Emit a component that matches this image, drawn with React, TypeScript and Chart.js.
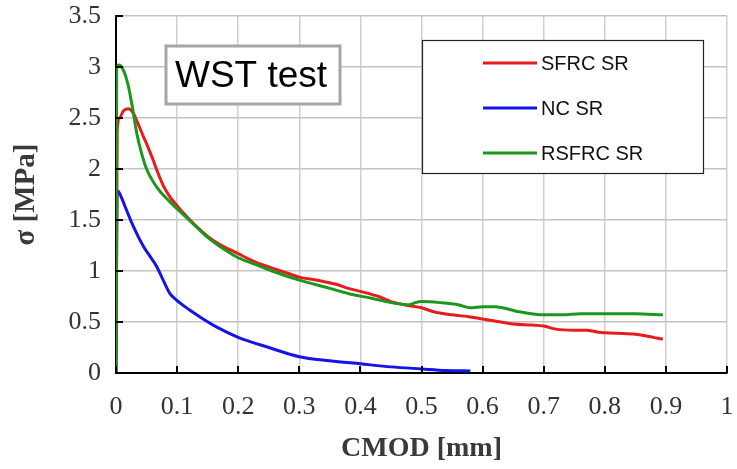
import React, { useEffect, useRef } from "react";
import { Chart, registerables } from "chart.js";

Chart.register(...registerables);

const sfrcX = [0, 0.002, 0.006, 0.012, 0.02, 0.028, 0.035, 0.044, 0.052, 0.06, 0.068, 0.078, 0.088, 0.1, 0.11, 0.126, 0.15, 0.17, 0.2, 0.22, 0.25, 0.28, 0.3, 0.33, 0.36, 0.38, 0.4, 0.43, 0.45, 0.48, 0.5, 0.52, 0.55, 0.58, 0.6, 0.62, 0.65, 0.68, 0.7, 0.72, 0.75, 0.77, 0.79, 0.82, 0.85, 0.87, 0.895];
const sfrcY = [0, 2.38, 2.5, 2.57, 2.59, 2.55, 2.46, 2.33, 2.22, 2.1, 1.97, 1.83, 1.73, 1.64, 1.57, 1.47, 1.34, 1.26, 1.17, 1.11, 1.04, 0.98, 0.94, 0.91, 0.87, 0.83, 0.8, 0.75, 0.7, 0.66, 0.64, 0.6, 0.57, 0.55, 0.53, 0.51, 0.48, 0.47, 0.46, 0.43, 0.42, 0.42, 0.4, 0.39, 0.38, 0.36, 0.33];

const ncX = [0, 0.002, 0.006, 0.015, 0.026, 0.045, 0.055, 0.067, 0.078, 0.088, 0.1, 0.12, 0.14, 0.165, 0.2, 0.25, 0.3, 0.35, 0.4, 0.45, 0.5, 0.54, 0.58];
const ncY = [0, 1.79, 1.76, 1.63, 1.47, 1.24, 1.15, 1.04, 0.9, 0.78, 0.71, 0.62, 0.54, 0.45, 0.35, 0.25, 0.16, 0.12, 0.09, 0.06, 0.04, 0.025, 0.02];

const rsfrcX = [0, 0.001, 0.005, 0.012, 0.02, 0.027, 0.034, 0.042, 0.05, 0.067, 0.088, 0.116, 0.132, 0.15, 0.18, 0.2, 0.23, 0.26, 0.3, 0.35, 0.38, 0.42, 0.45, 0.48, 0.49, 0.5, 0.53, 0.56, 0.58, 0.6, 0.62, 0.66, 0.7, 0.73, 0.76, 0.8, 0.85, 0.895];
const rsfrcY = [0, 2.98, 3.02, 2.97, 2.82, 2.6, 2.35, 2.15, 2.0, 1.82, 1.68, 1.52, 1.43, 1.33, 1.2, 1.13, 1.06, 0.99, 0.91, 0.83, 0.78, 0.73, 0.69, 0.67, 0.69, 0.7, 0.69, 0.67, 0.64, 0.65, 0.65, 0.6, 0.57, 0.57, 0.58, 0.58, 0.58, 0.57];

const seriesNames = ["SFRC SR", "NC SR", "RSFRC SR"];
const seriesColors = ["#e81c1c", "#1414e8", "#1b981b"];

const xTicks = [0, 0.1, 0.2, 0.3, 0.4, 0.5, 0.6, 0.7, 0.8, 0.9, 1];
const yTicks = [0, 0.5, 1, 1.5, 2, 2.5, 3, 3.5];

const toPoints = (xs: number[], ys: number[]) => xs.map((x, i) => ({ x, y: ys[i] }));
const fmt = (v: number) => String(Number(Number(v).toFixed(1)));

const decorPlugin = {
  id: "decor",
  afterDraw(chart: any) {
    const ctx = chart.ctx;
    const xs = chart.scales.x;
    const ys = chart.scales.y;
    const area = chart.chartArea;
    ctx.save();
    ctx.strokeStyle = "#000";
    ctx.lineWidth = 2;
    xTicks.forEach((t) => {
      const px = Math.round(xs.getPixelForValue(t));
      ctx.beginPath();
      ctx.moveTo(px, area.bottom);
      ctx.lineTo(px, area.bottom - 7);
      ctx.stroke();
    });
    yTicks.forEach((t) => {
      const py = Math.round(ys.getPixelForValue(t));
      ctx.beginPath();
      ctx.moveTo(area.left, py);
      ctx.lineTo(area.left + 7, py);
      ctx.stroke();
    });
    // WST test box
    ctx.fillStyle = "#fff";
    ctx.fillRect(166, 46, 174, 58);
    ctx.strokeStyle = "#a6a6a6";
    ctx.lineWidth = 3;
    ctx.strokeRect(166, 46, 174, 58);
    ctx.fillStyle = "#000";
    ctx.font = "37px 'Liberation Sans', Arial, sans-serif";
    ctx.textBaseline = "middle";
    ctx.textAlign = "left";
    ctx.fillText("WST test", 175, 77);
    // legend box
    ctx.fillStyle = "#fff";
    ctx.fillRect(422, 40, 281, 133);
    ctx.strokeStyle = "#222";
    ctx.lineWidth = 1.2;
    ctx.strokeRect(422.5, 40.5, 281, 133);
    const rows = [63, 108, 153];
    ctx.font = "20px 'Liberation Sans', Arial, sans-serif";
    rows.forEach((ry, i) => {
      ctx.strokeStyle = seriesColors[i];
      ctx.lineWidth = 3;
      ctx.beginPath();
      ctx.moveTo(483, ry);
      ctx.lineTo(537, ry);
      ctx.stroke();
      ctx.fillStyle = "#111";
      ctx.fillText(seriesNames[i], 541, ry + 1);
    });
    ctx.restore();
  },
};

export default function App() {
  const ref = useRef<HTMLCanvasElement | null>(null);
  useEffect(() => {
    document.body.style.margin = "0";
    const canvas = ref.current;
    if (!canvas) return;
    const datasets = [
      { label: seriesNames[0], data: toPoints(sfrcX, sfrcY), borderColor: seriesColors[0], order: 1 },
      { label: seriesNames[1], data: toPoints(ncX, ncY), borderColor: seriesColors[1], order: 2 },
      { label: seriesNames[2], data: toPoints(rsfrcX, rsfrcY), borderColor: seriesColors[2], order: 0 },
    ].map((d) => ({
      ...d,
      borderWidth: 3,
      pointRadius: 0,
      showLine: true,
      fill: false,
      cubicInterpolationMode: "monotone",
      backgroundColor: d.borderColor,
    }));
    const chart = new Chart(canvas, {
      type: "scatter",
      data: { datasets },
      options: {
        animation: false,
        responsive: false,
        devicePixelRatio: 1,
        layout: { padding: { top: 16, right: 10, left: 0, bottom: 0 } },
        plugins: { legend: { display: false }, tooltip: { enabled: false } },
        scales: {
          x: {
            type: "linear",
            min: 0,
            max: 1,
            afterFit: (s: any) => { s.height = 96; s.paddingLeft = 0; s.paddingRight = 0; },
            afterBuildTicks: (s: any) => { s.ticks = xTicks.map((v) => ({ value: v })); },
            ticks: {
              callback: (v: any) => fmt(v),
              font: { family: "'Liberation Serif', serif", size: 26 },
              color: "#333",
              padding: 19,
              maxRotation: 0,
              autoSkip: false,
            },
            grid: { color: "#cfcfcf", lineWidth: 1.5, drawTicks: false },
            border: { display: true, color: "#000", width: 2 },
            title: {
              display: true,
              text: "CMOD [mm]",
              font: { family: "'Liberation Serif', serif", size: 28, weight: "bold" },
              color: "#3a3a3a",
              padding: { top: 0, bottom: 3 },
            },
          },
          y: {
            type: "linear",
            min: 0,
            max: 3.5,
            afterFit: (s: any) => { s.width = 116; s.paddingTop = 0; s.paddingBottom = 0; },
            afterBuildTicks: (s: any) => { s.ticks = yTicks.map((v) => ({ value: v })); },
            ticks: {
              callback: (v: any) => fmt(v),
              font: { family: "'Liberation Serif', serif", size: 26 },
              color: "#333",
              padding: 15,
              autoSkip: false,
            },
            grid: { color: "#c4c4c4", lineWidth: 1.5, drawTicks: false },
            border: { display: true, color: "#000", width: 2 },
            title: {
              display: true,
              text: "σ [MPa]",
              font: { family: "'Liberation Serif', serif", size: 29, weight: "bold" },
              color: "#3a3a3a",
              padding: { top: 9, bottom: 0 },
            },
          },
        },
      },
      plugins: [decorPlugin],
    } as any);
    return () => chart.destroy();
  }, []);
  return (
    <div style={{ position: "absolute", left: 0, top: 0, width: 737, height: 469 }}>
      <canvas ref={ref} width={737} height={469} />
    </div>
  );
}
